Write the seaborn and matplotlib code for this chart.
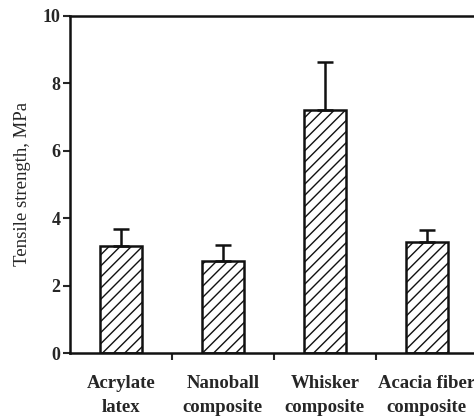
import matplotlib
matplotlib.use("Agg")
import matplotlib.pyplot as plt
import seaborn as sns
import numpy as np
import pandas as pd

categories = ["Acrylate\nlatex", "Nanoball\ncomposite", "Whisker\ncomposite", "Acacia fiber\ncomposite"]
strength = [3.18, 2.73, 7.2, 3.28]
err_up = [0.5, 0.46, 1.42, 0.38]
yticks = [0, 2, 4, 6, 8, 10]

sns.set_style("ticks")
plt.rcParams['font.family'] = ['Liberation Serif', 'DejaVu Serif']
plt.rcParams['hatch.linewidth'] = 1.0
plt.rcParams['hatch.color'] = '#111111'

df = pd.DataFrame({"cat": categories, "val": strength})

fig = plt.figure(figsize=(4.74, 4.2), dpi=100)
ax = fig.add_axes([0.1477, 0.1595, 0.86, 0.803])

sns.barplot(data=df, x="cat", y="val", ax=ax, color="white", width=0.41,
            edgecolor="black", linewidth=1.8, errorbar=None)
for p in ax.patches:
    p.set_hatch("///")
    p.set_facecolor("white")
    p.set_edgecolor("#111111")

x = np.arange(len(categories))
ax.errorbar(x, strength, yerr=[np.zeros(len(err_up)), err_up], fmt="none",
            ecolor="#111111", elinewidth=1.8, capsize=5.5, capthick=1.8)

ax.set_xlim(-0.5, 3.5)
ax.set_ylim(0, 10)
ax.set_yticks(yticks)
ax.set_yticklabels([str(t) for t in yticks], fontsize=13, fontweight="bold")
ax.set_xticks(x)
ax.set_xticklabels(categories, fontsize=13.5, fontweight="bold", linespacing=1.55)
ax.tick_params(axis="x", length=0, pad=16)
ax.set_xticks([0.5, 1.5, 2.5], minor=True)
ax.tick_params(axis="x", which="minor", length=5, width=1.5, direction="out")
ax.tick_params(axis="y", length=5, width=1.5, direction="out", pad=2)
ax.set_xlabel("")
ax.set_ylabel("Tensile strength, MPa", fontsize=13.5, labelpad=8)
for s in ["left", "bottom", "top"]:
    ax.spines[s].set_linewidth(1.8)
    ax.spines[s].set_color("#111111")
    ax.spines[s].set_visible(True)
ax.spines["right"].set_visible(False)

fig.savefig("out.png", dpi=100)
